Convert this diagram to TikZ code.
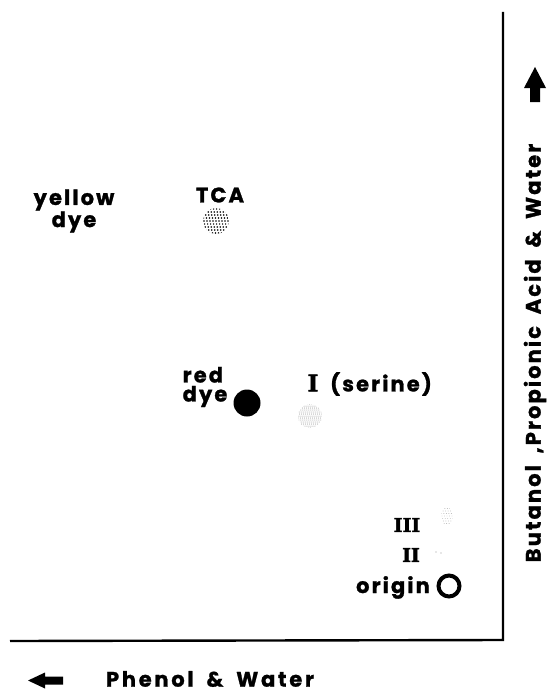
\documentclass[tikz,border=0pt]{standalone}
\usepackage{fontspec}
\usetikzlibrary{calc}
\setmainfont{Poppins}[BoldFont=* Bold, BoldFeatures={FakeBold=1.2}, LetterSpace=10]
\newfontfamily\axisfont{Poppins}[BoldFont=* Bold, BoldFeatures={FakeBold=1.2}, LetterSpace=13, WordSpace=1.8]
\newfontfamily\sideaxisfont{Poppins}[BoldFont=* Bold, BoldFeatures={FakeBold=1.2}, LetterSpace=10, WordSpace=1.8]
\newfontfamily\romfont{DejaVu Serif}[BoldFont=* Bold, BoldFeatures={FakeBold=2}]
\begin{document}
\begin{tikzpicture}[x=1pt,y=-1pt,
  lbl/.style={font=\bfseries\fontsize{21}{19}\selectfont, inner sep=0pt, text=black},
  axislbl/.style={font=\axisfont\bfseries\fontsize{21}{19}\selectfont, inner sep=0pt, text=black},
  sidelbl/.style={font=\sideaxisfont\bfseries\fontsize{21}{19}\selectfont, inner sep=0pt, text=black},
  rom/.style={font=\romfont\bfseries\fontsize{19}{19}\selectfont, inner sep=0pt, text=black},
  frame/.style={line width=2.4pt, black}]
\useasboundingbox (0,0) rectangle (549,693);
% frame
\coordinate (tl) at (503,12);
\coordinate (corner) at (503,640);
\coordinate (bl) at (10,641);
\draw[frame] (tl) -- (corner) -- (bl);
% labels
\node[lbl, align=center] (yellow) at (74,211) {yellow\\dye};
\node[lbl] (tca) at (220,195) {TCA};
\node[lbl, align=left] (red) at (205,387) {red\\dye};
\node[rom, font=\romfont\bfseries\fontsize{23}{23}\selectfont] (one) at (313,383) {I};
\node[lbl] (serine) at (381,384) {(serine)};
\node[rom] (three) at (407,525) {III};
\node[rom] (two) at (411,555) {II};
\node[lbl, anchor=base east] (origin) at (430,593) {origin};
% spots
\coordinate (tcaspot) at (216,221);
\begin{scope}
  \clip (tcaspot) circle (13);
  \foreach \i in {-5,...,5}{\foreach \j in {-5,...,5}{
    \fill[black] ($(tcaspot)+(\i*3+\j*0.6,\j*3)$) circle (0.85);}}
\end{scope}
\coordinate (serspot) at (310,416);
\begin{scope}
  \clip (serspot) circle (12);
  \foreach \i in {-6,...,6}{\foreach \j in {-6,...,6}{
    \fill[black!45] ($(serspot)+(\i*2+\j*0.4,\j*2)$) circle (0.5);}}
\end{scope}
\coordinate (threespot) at (447,516);
\begin{scope}
  \clip (threespot) ellipse (6 and 9);
  \foreach \i in {-3,...,3}{\foreach \j in {-4,...,4}{
    \fill[black!30] ($(threespot)+(\i*2.5+\j*0.7,\j*2.5)$) circle (0.45);}}
\end{scope}
\fill[black!40] (436,552) circle (0.6) (441,553) circle (0.6);
\fill[black] (247,403) circle (13.5);
\coordinate (origincirc) at (449,586);
\draw[line width=4pt] (origincirc) circle (10.5);
% axis labels
\node[axislbl] (phenol) at (210,679) {Phenol \& Water};
\node[sidelbl, rotate=90] (buta) at (535,353) {Butanol ,Propionic Acid \& Water};
\fill[black] (28,680.5) -- (45,672.5) -- (45,676.5) -- (63,676.5) -- (63,684.5) -- (45,684.5) -- (45,688.5) -- cycle;
\fill[black] (535,67) -- (546,88) -- (540,88) -- (540,102) -- (530,102) -- (530,88) -- (524,88) -- cycle;
\end{tikzpicture}
\end{document}
